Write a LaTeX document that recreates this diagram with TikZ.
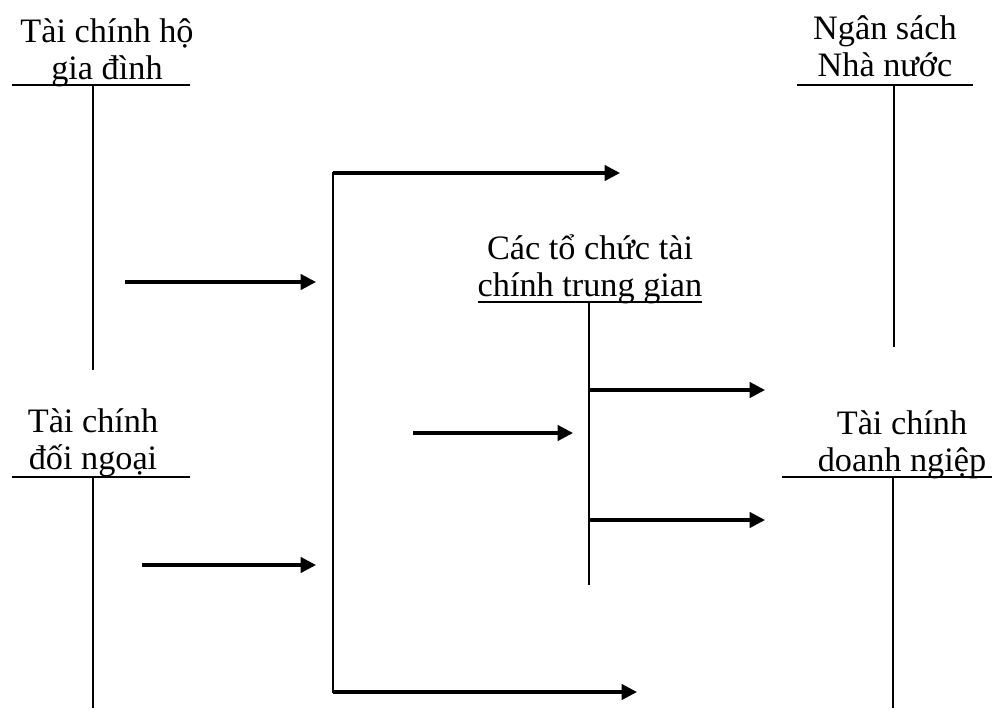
\documentclass[tikz,border=0pt]{standalone}
\usepackage{fontspec}
\setmainfont{Liberation Serif}
\usetikzlibrary{arrows.meta}
\tikzset{
	acct/.style={anchor=base, align=center, inner sep=0pt, font=\fontsize{19.5}{20.5}\selectfont},
	bar/.style={line width=1.3pt},
	flow/.style={line width=1.8pt, -{Triangle[length=0.31cm, width=0.31cm]}},
}

\begin{document}
\begin{tikzpicture}[x=0.02cm, y=-0.02cm]
			%%%%% START %%%%%
			\useasboundingbox (0, 0) rectangle (998, 711);
			
			\node[acct] (hgd) at (107, 79) {Tài chính hộ\\gia đình};
			\draw[bar] (12, 85) -- (190, 85);
			\draw[bar] (93, 85) -- (93, 370);
			
			\node[acct] (nsnn) at (885, 76) {Ngân sách\\Nhà nước};
			\draw[bar] (797, 85) -- (973, 85);
			\draw[bar] (894, 85) -- (894, 347);
			
			\node[acct] (dng) at (93, 469) {Tài chính\\đối ngoại};
			\draw[bar] (12, 477) -- (190, 477);
			\draw[bar] (93, 477) -- (93, 708);
			
			\node[acct] (dn) at (902, 471) {Tài chính\\doanh ngiệp};
			\draw[bar] (782, 477) -- (992, 477);
			\draw[bar] (893, 477) -- (893, 708);
			
			\node[acct] (tctg) at (590, 296) {Các tổ chức tài\\chính trung gian};
			\draw[bar] (478, 302) -- (702, 302);
			\draw[bar] (589, 302) -- (589, 585);
			
			\coordinate (hgd-out) at (125, 282);
			\coordinate (dng-out) at (142, 565);
			\coordinate (pool-in1) at (316, 282);
			\coordinate (pool-in2) at (316, 565);
			\coordinate (pool-nw) at (333, 173);
			\coordinate (pool-sw) at (333, 692);
			\coordinate (pool-top) at (620, 173);
			\coordinate (pool-bot) at (637, 692);
			\coordinate (tctg-in-from) at (413, 433);
			\coordinate (tctg-in) at (573, 433);
			\coordinate (tctg-up) at (589, 390);
			\coordinate (tctg-dn) at (589, 520);
			\coordinate (dn-in1) at (765, 390);
			\coordinate (dn-in2) at (765, 520);
			
			\draw[flow] (hgd-out) -- (pool-in1);
			\draw[flow] (dng-out) -- (pool-in2);
			\draw[bar, line cap=rect] (pool-nw) -- (pool-sw);
			\draw[flow] (pool-nw) -- (pool-top);
			\draw[flow] (pool-sw) -- (pool-bot);
			\draw[flow] (tctg-in-from) -- (tctg-in);
			\draw[flow] (tctg-up) -- (dn-in1);
			\draw[flow] (tctg-dn) -- (dn-in2);
			%%%%% END %%%%%
\end{tikzpicture}
\end{document}
